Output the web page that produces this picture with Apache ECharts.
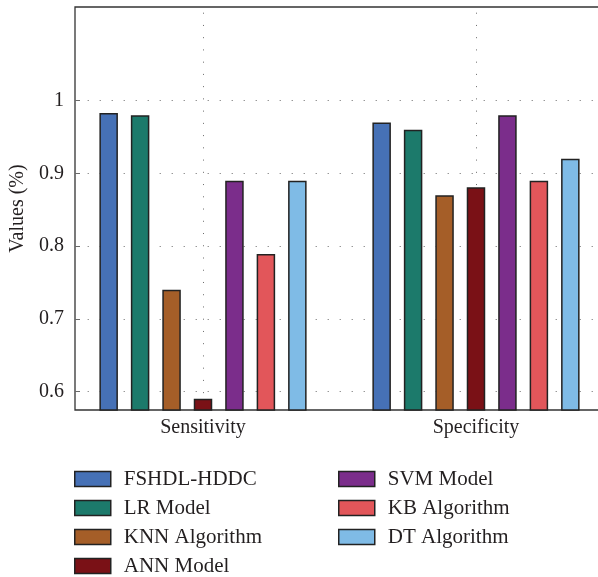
<!DOCTYPE html>
<html><head><meta charset="utf-8">
<script src="https://cdn.jsdelivr.net/npm/echarts@6/dist/echarts.min.js"></script>
<style>html,body{margin:0;padding:0;background:#fff}#c{width:598px;height:577px}</style>
</head><body><div id="c"></div>
<script>
const categories = ['Sensitivity', 'Specificity'];
const seriesNames = ['FSHDL-HDDC', 'LR Model', 'KNN Algorithm', 'ANN Model', 'SVM Model', 'KB Algorithm', 'DT Algorithm'];
const fshdlValues = [0.983, 0.970];
const lrValues = [0.980, 0.960];
const knnValues = [0.740, 0.870];
const annValues = [0.590, 0.881];
const svmValues = [0.890, 0.980];
const kbValues = [0.789, 0.890];
const dtValues = [0.890, 0.920];
const yTickLabels = ['0.6', '0.7', '0.8', '0.9', '1'];
const yMin = 0.5745, yMax = 1.1289;
const xMin = 0.5311, xMax = 2.4689;

const allValues = [fshdlValues, lrValues, knnValues, annValues, svmValues, kbValues, dtValues];
const colors = ['#4671b6', '#1c7a6b', '#a55e28', '#7a1116', '#7b2d8b', '#e2565a', '#7fbbe6'];
const font = "'Liberation Serif', 'DejaVu Serif', serif";
const textColor = '#231f20';
const gridColor = '#6a6a6a';

// horizontal grid: short tick then dots
const hDash = [5, 7.7];
for (let i = 0; i < 50; i++) { hDash.push(1, 11); }

const series = seriesNames.map((name, k) => ({
  name: name,
  type: 'bar',
  barWidth: 18.5,
  barGap: '70%',
  itemStyle: { color: colors[k], borderColor: '#222', borderWidth: 1.5 },
  data: allValues[k].map((v, i) => [i + 1, v])
}));

const legendCommon = {
  orient: 'vertical', top: 468.5, padding: 0, itemWidth: 36, itemHeight: 15, itemGap: 8,
  selectedMode: false, icon: 'rect',
  itemStyle: { borderColor: '#222', borderWidth: 1.5 },
  textStyle: { fontFamily: font, fontSize: 21, color: textColor, padding: [0, 0, 0, 8] }
};

const chart = echarts.init(document.getElementById('c'));
chart.setOption({
  backgroundColor: '#fff',
  animation: false,
  grid: { left: 75, top: 7, width: 529, height: 403, outerBoundsMode: 'none', containLabel: false,
          show: true, borderColor: '#333', borderWidth: 1.3, backgroundColor: 'transparent' },
  xAxis: {
    type: 'value', min: xMin, max: xMax, minInterval: 1, splitNumber: 2,
    axisLine: { show: false }, axisTick: { show: false },
    axisLabel: {
      showMinLabel: false, showMaxLabel: false, margin: 8,
      fontFamily: font, fontSize: 20, color: textColor,
      formatter: v => (Math.abs(v - Math.round(v)) < 1e-6 && categories[Math.round(v) - 1]) ? categories[Math.round(v) - 1] : ''
    },
    splitLine: { show: true, lineStyle: { color: ['rgba(0,0,0,0)', gridColor, gridColor, 'rgba(0,0,0,0)'], width: 1, type: [1, 11.24], dashOffset: 6.54 } }
  },
  yAxis: {
    type: 'value', min: yMin, max: yMax, minInterval: 0.1, maxInterval: 0.1,
    name: 'Values (%)', nameLocation: 'middle', nameRotate: 90, nameGap: 43,
    nameTextStyle: { fontFamily: font, fontSize: 20, color: textColor },
    axisLine: { show: false }, axisTick: { show: false },
    axisLabel: {
      margin: 11, fontFamily: font, fontSize: 20, color: textColor,
      formatter: v => { const s = yTickLabels.find(t => Math.abs(parseFloat(t) - v) < 1e-6); return s || ''; }
    },
    splitLine: { show: true, lineStyle: {
      color: ['rgba(0,0,0,0)', gridColor, gridColor, gridColor, gridColor, gridColor, 'rgba(0,0,0,0)', 'rgba(0,0,0,0)'],
      width: 1, type: hDash } }
  },
  legend: [
    Object.assign({ left: 74, data: seriesNames.slice(0, 4) }, legendCommon),
    Object.assign({ left: 338, data: seriesNames.slice(4) }, legendCommon)
  ],
  series: series
});
</script>
</body></html>
